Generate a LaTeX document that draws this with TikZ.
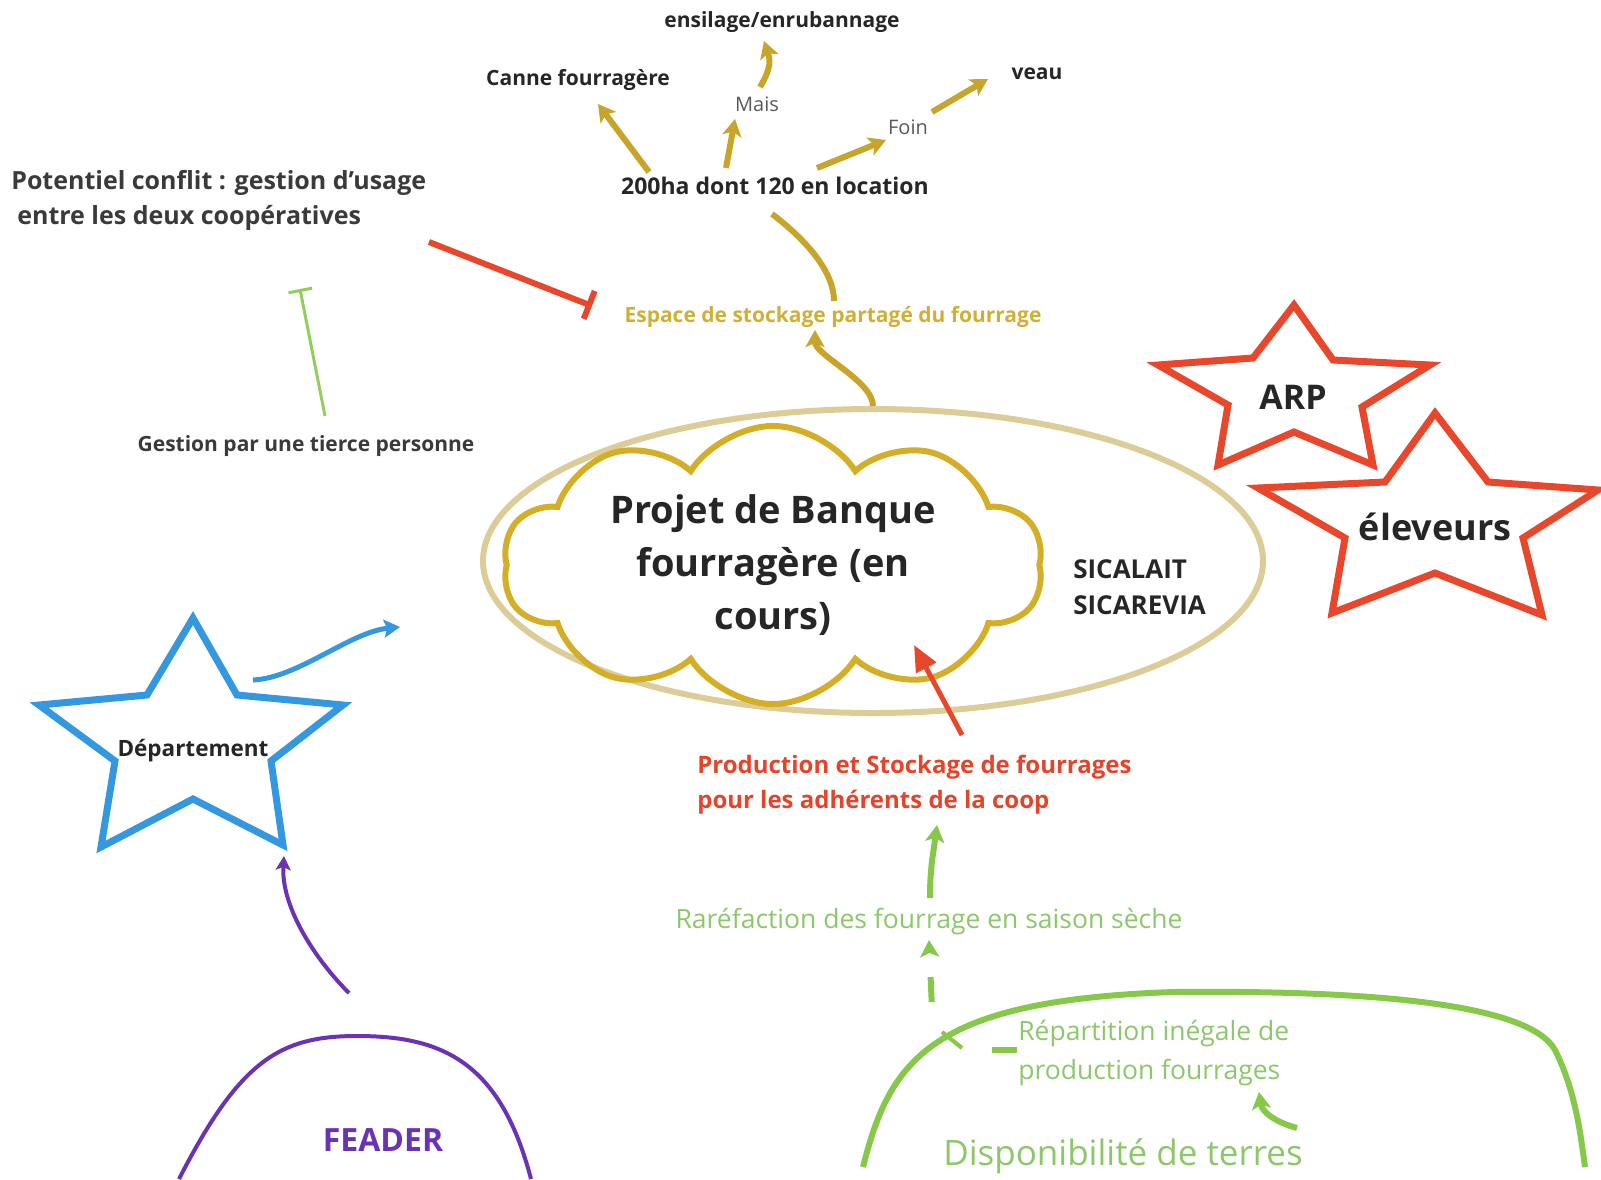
\documentclass[tikz,border=0pt]{standalone}
\usepackage{fontspec}
\setmainfont{Open Sans}
\usetikzlibrary{arrows.meta,shapes.geometric,shapes.symbols}
\definecolor{goldline}{HTML}{C8A42A}
\definecolor{cloudline}{HTML}{D4AE26}
\definecolor{tanline}{HTML}{DCCD98}
\definecolor{goldtext}{HTML}{D0AF36}
\definecolor{ink}{HTML}{262626}
\definecolor{ink2}{HTML}{3A3A3A}
\definecolor{graytext}{HTML}{5A5A5A}
\definecolor{redline}{HTML}{E8472C}
\definecolor{redtext}{HTML}{E5432A}
\definecolor{blueline}{HTML}{3498E0}
\definecolor{purpleline}{HTML}{6A32B4}
\definecolor{greenline}{HTML}{86C94A}
\definecolor{greentext}{HTML}{8CC76A}
\newcommand{\fsz}[2]{\fontsize{#1}{#2}\selectfont}

\begin{document}
\begin{tikzpicture}[x=1pt,y=1pt,>={Stealth[length=17pt,width=19pt,inset=4pt]},
        lbl/.style={inner sep=1pt,text=ink,font=\bfseries\fsz{21}{25}},
        thinlbl/.style={inner sep=1pt,text=graytext,font=\fsz{20}{24}},
        greenlbl/.style={inner sep=1pt,text=greentext,font=\fsz{26.5}{31}},
        goldarr/.style={->,draw=goldline,line width=6pt},
        greenarr/.style={->,draw=greenline,line width=6pt},
        starline/.style={line width=7pt,line join=miter},
        semithick]
      \useasboundingbox (0,0) rectangle (1601,-1179);
      \node[lbl] (ensil) at (782,-22) {ensilage/enrubannage};
      \node[lbl] (canne) at (578,-80) {Canne fourragère};
      \node[lbl] (veau) at (1037,-74) {veau};
      \node[thinlbl] (mais) at (757,-104) {Mais};
      \node[thinlbl] (foin) at (908,-127) {Foin};
      \node[lbl,font=\bfseries\fsz{23}{28}] (ha) at (775,-186) {200ha dont 120 en location};
      \node[lbl,text=goldtext] (espace) at (833,-317) {Espace de stockage partagé du fourrage};
      \node[lbl,text=ink2,font=\bfseries\fsz{25}{35},align=left,anchor=west] (conflit) at (10,-200)
        {Potentiel conflit : gestion d'usage\\\hspace{6pt}entre les deux coopératives};
      \node[lbl,text=ink2] (tierce) at (306,-446) {Gestion par une tierce personne};

      \node[draw=tanline,line width=6pt,ellipse,minimum width=780pt,minimum height=304pt] (coop) at (873,-561) {};
      \node[cloud,cloud puffs=10,cloud puff arc=115,cloud ignores aspect,draw=cloudline,line width=6pt,
        minimum width=540pt,minimum height=262pt,align=center,text=ink,font=\bfseries\fsz{38}{53}]
        (projet) at (773,-565) {Projet de Banque\\fourragère (en\\cours)};
      \node[lbl,font=\bfseries\fsz{26}{36},align=left,anchor=west] (sica) at (1072,-587) {SICALAIT\\SICAREVIA};

      \draw[starline,draw=redline] (1294,-305) -- (1333,-360) -- (1430,-365) -- (1362,-407) -- (1373,-465)
        -- (1294,-432) -- (1218,-465) -- (1228,-405) -- (1158,-365) -- (1253,-358) -- cycle;
      \node[lbl,font=\bfseries\fsz{34}{40}] (arp) at (1293,-397) {ARP};
      \draw[starline,draw=redline] (1435,-413) -- (1488,-482) -- (1598,-490) -- (1523,-538) -- (1542,-615)
        -- (1435,-573) -- (1332,-613) -- (1345,-538) -- (1258,-488) -- (1385,-482) -- cycle;
      \node[lbl,font=\bfseries\fsz{36}{42}] (elev) at (1435,-527) {éleveurs};
      \draw[starline,draw=blueline] (193,-618) -- (237,-695) -- (343,-705) -- (271,-761) -- (283,-845)
        -- (193,-799) -- (101,-847) -- (115,-761) -- (39,-705) -- (147,-695) -- cycle;
      \node[lbl,font=\bfseries\fsz{22.5}{26}] (dept) at (193,-751) {Département};
      \coordinate (deptout) at (400,-627);

      \node[lbl,text=redtext,font=\bfseries\fsz{24}{35},align=left,anchor=west] (prod) at (696,-785)
        {Production et Stockage de fourrages\\pour les adhérents de la coop};
      \node[greenlbl] (raref) at (929,-922) {Raréfaction des fourrage en saison sèche};
      \node[greenlbl,align=left,anchor=west,font=\fsz{26.5}{39}] (repart) at (1017,-1053)
        {Répartition inégale de\\production fourrages};
      \node[greenlbl,font=\fsz{35}{40}] (dispo) at (1123,-1156) {Disponibilité de terres};
      \node[lbl,text=purpleline,font=\bfseries\fsz{32}{36}] (feader) at (383,-1140) {FEADER};

      \draw[purpleline,line width=4pt] (179,-1179) .. controls (240,-1060) and (280,-1036) .. (357,-1036)
        .. controls (440,-1036) and (500,-1060) .. (531,-1179);
      \draw[greenline,line width=6pt] (863,-1167) .. controls (890,-1060) and (930,-1000) .. (1174,-992)
        .. controls (1380,-990) and (1530,-1005) .. (1555,-1050) .. controls (1575,-1090) and (1580,-1130) .. (1585,-1167);
      \draw[greenline,line width=4pt] (942,-1032) -- (962,-1048);

      \path ([shift={(-126,14)}]ha.center) edge[goldarr] ([shift={(20,-24)}]canne.center)
            ([shift={(-49,18)}]ha.center) edge[goldarr] ([shift={(-22,-15)}]mais.center)
            ([shift={(42,18)}]ha.center) edge[goldarr] ([shift={(-22,-13)}]foin.center)
            ([shift={(24,15)}]foin.center) edge[goldarr] ([shift={(-49,-5)}]veau.center);
      \draw[goldarr] ([shift={(3,17)}]mais.center) .. controls +(12,20) and +(6,-18) .. ([shift={(-18,-19)}]ensil.center);
      \draw[goldline,line width=6pt] ([shift={(-3,-28)}]ha.center) .. controls +(33,-25) and +(0,30) .. ([shift={(1,16)}]espace.center);
      \draw[goldarr] (coop.north) .. controls +(0,25) and +(0,-25) .. ([shift={(-18,-13)}]espace.center);

      \draw[redline,line width=6pt,-{Bar[width=30pt]}] ([shift={(419,-42)}]conflit.west) -- ([shift={(-241,11)}]espace.center);
      \draw[greenline!90!white,line width=3pt,-{Bar[width=24pt]}] ([shift={(19,30)}]tierce.center) -- ([shift={(290,-89)}]conflit.west);

      \draw[->,blueline,line width=5pt,>={Stealth[length=16pt,width=18pt,inset=3pt]}]
        ([shift={(60,71)}]dept.center) .. controls +(45,2) and +(-50,-5) .. (deptout);
      \draw[->,purpleline,line width=4pt,>={Stealth[length=14pt,width=15pt,inset=3pt]}]
        ([shift={(-34,147)}]feader.center) .. controls +(-35,35) and +(-3,-50) .. ([shift={(91,-105)}]dept.center);

      \draw[redline,line width=5pt,-{Triangle[length=26pt,width=22pt]}] ([shift={(266,50)}]prod.west) -- ([shift={(141,-80)}]projet.center);
      \draw[greenarr] ([shift={(1,24)}]raref.center) .. controls +(0,30) and +(-4,-30) .. ([shift={(241,-40)}]prod.west);
      \draw[greenarr,dash pattern=on 0pt off 30pt on 25pt off 100pt] ([shift={(-84,21)}]repart.west) -- ([shift={(0,-18)}]raref.center);
      \draw[greenline,line width=6pt] ([shift={(-25,3)}]repart.west) -- ([shift={(0,3)}]repart.west);
      \draw[greenarr] ([shift={(174,28)}]dispo.center) .. controls +(-22,6) and +(3,-20) .. ([shift={(242,-39)}]repart.west);
    \end{tikzpicture}
\end{document}
